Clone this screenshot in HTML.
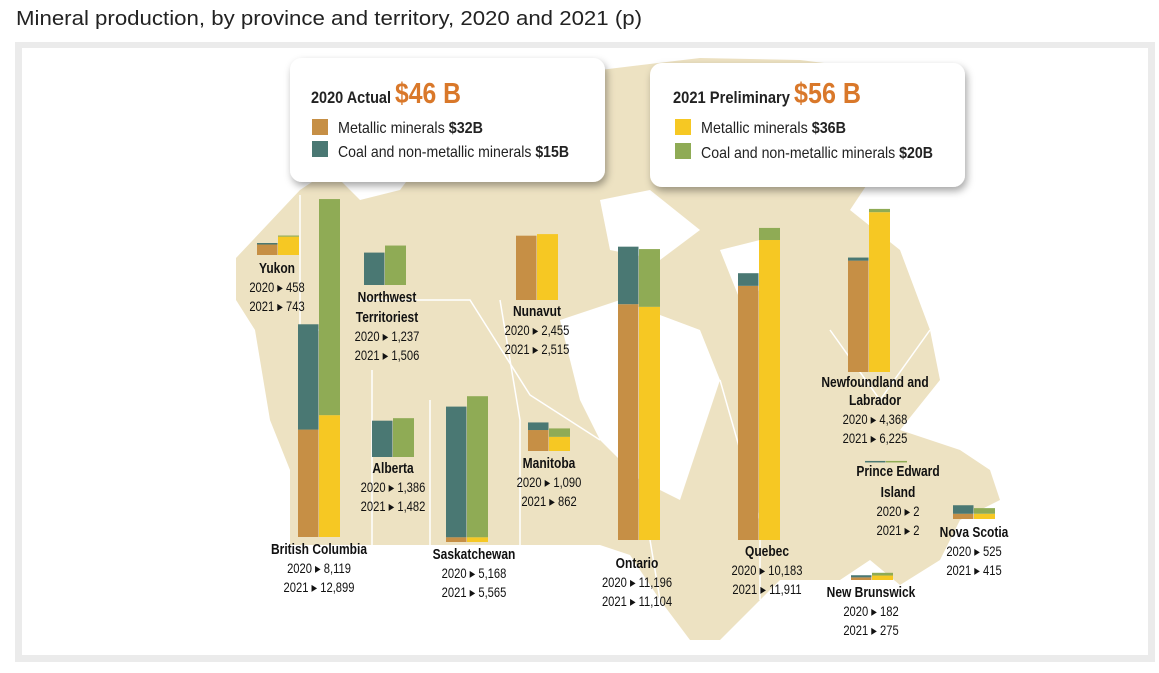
<!DOCTYPE html>
<html><head><meta charset="utf-8"><style>
body{margin:0;background:#fff;font-family:"Liberation Sans",sans-serif;}
svg text{font-family:"Liberation Sans",sans-serif;}
</style></head><body>
<svg id="c" width="1159" height="668" viewBox="0 0 1159 668" xmlns="http://www.w3.org/2000/svg">
<defs><filter id="sh" x="-10%" y="-10%" width="130%" height="140%"><feDropShadow dx="2" dy="4" stdDeviation="4" flood-color="#000" flood-opacity="0.35"/></filter></defs>
<text x="16" y="25" font-size="20" fill="#222" textLength="626" lengthAdjust="spacingAndGlyphs">Mineral production, by province and territory, 2020 and 2021 (p)</text>
<rect x="15" y="42" width="1140" height="620" fill="#ebebeb"/>
<rect x="22" y="48" width="1126" height="607" fill="#fff"/>
<g fill="#ede2c2">
<path d="M236,258 L300,190 L330,170 L360,200 L400,190 L430,150 L470,110 L520,90 L600,70 L700,58 L800,60 L880,70 L900,110 L870,180 L850,210 L900,250 L930,330 L940,380 L900,430 L960,450 L990,470 L1000,500 L960,520 L940,560 L900,585 L870,560 L840,580 L780,580 L760,600 L720,640 L690,640 L660,600 L630,555 L600,545 L290,545 L290,470 L270,420 L255,330 L236,300 Z"/>
<path d="M560,320 L620,300 L700,330 L720,380 L700,440 L680,500 L640,480 L600,440 L580,400 Z" fill="#fff"/>
<path d="M600,200 L650,190 L700,230 L660,260 L610,250 Z" fill="#fff"/>
<path d="M720,250 L760,240 L780,280 L740,300 Z" fill="#fff"/>
<g stroke="#fff" stroke-width="1.5" fill="none">
<path d="M300,195 L300,330 L330,330"/><path d="M360,300 L470,300 L530,395 L600,440"/><path d="M372,370 L372,545"/><path d="M430,400 L430,545"/><path d="M500,300 L520,420 L520,545"/><path d="M640,480 L660,600"/><path d="M720,380 L760,520 L760,600"/><path d="M830,330 L880,400 L930,330"/></g>
</g>
<g id="bars"></g>
<g id="labels"></g>
<g>
<rect x="290" y="58" width="315" height="124" rx="12" fill="#fff" filter="url(#sh)"/>
<text x="311" y="103" font-size="17" font-weight="bold" fill="#222" textLength="150" lengthAdjust="spacingAndGlyphs">2020 Actual <tspan font-size="29" fill="#d9782a">$46 B</tspan></text>
<rect x="312" y="119" width="16" height="16" fill="#c68f45"/>
<text x="338" y="133" font-size="16" fill="#222" textLength="145" lengthAdjust="spacingAndGlyphs">Metallic minerals <tspan font-weight="bold">$32B</tspan></text>
<rect x="312" y="141" width="16" height="16" fill="#4a7873"/>
<text x="338" y="157" font-size="16" fill="#222" textLength="231" lengthAdjust="spacingAndGlyphs">Coal and non-metallic minerals <tspan font-weight="bold">$15B</tspan></text>
</g>
<g>
<rect x="650" y="63" width="315" height="124" rx="12" fill="#fff" filter="url(#sh)"/>
<text x="673" y="103" font-size="17" font-weight="bold" fill="#222" textLength="188" lengthAdjust="spacingAndGlyphs">2021 Preliminary <tspan font-size="29" fill="#d9782a">$56 B</tspan></text>
<rect x="675" y="119" width="16" height="16" fill="#f6c823"/>
<text x="701" y="133" font-size="16" fill="#222" textLength="145" lengthAdjust="spacingAndGlyphs">Metallic minerals <tspan font-weight="bold">$36B</tspan></text>
<rect x="675" y="143" width="16" height="16" fill="#8fab55"/>
<text x="701" y="158" font-size="16" fill="#222" textLength="232" lengthAdjust="spacingAndGlyphs">Coal and non-metallic minerals <tspan font-weight="bold">$20B</tspan></text>
</g>
</svg>
<script>
const provinces=["Yukon","Northwest Territoriest","Nunavut","British Columbia","Alberta","Saskatchewan","Manitoba","Ontario","Quebec","Newfoundland and Labrador","Prince Edward Island","Nova Scotia","New Brunswick"];
const total2020=[458,1237,2455,8119,1386,5168,1090,11196,10183,4368,2,525,182];
const total2021=[743,1506,2515,12899,1482,5565,862,11104,11911,6225,2,415,275];
const metallic2020=[400,0,2455,4100,0,180,800,9000,9700,4250,0,200,100];
const metallic2021=[700,0,2515,4650,0,180,540,8900,11450,6100,0,200,170];
const pxPerUnit=0.0262;
const layout=[[257,255,277,[268]],[364,285,387,[297,317]],[516,300,537,[311]],[298,537,319,[549]],[372,457,393,[468]],[446,542,474,[554]],[528,451,549,[463]],[618,540,637,[563]],[738,540,767,[551]],[848,372,875,[382,400]],[865,461,898,[471,492]],[953,519,974,[532]],[851,580,871,[592]]];
const names=[["Yukon"],["Northwest","Territoriest"],["Nunavut"],["British Columbia"],["Alberta"],["Saskatchewan"],["Manitoba"],["Ontario"],["Quebec"],["Newfoundland and","Labrador"],["Prince Edward","Island"],["Nova Scotia"],["New Brunswick"]];
const NS="http://www.w3.org/2000/svg";
const bars=document.getElementById('bars'),labels=document.getElementById('labels');
const y=v=>v*pxPerUnit;
function rect(x,yy,w,h,fill,name){const r=document.createElementNS(NS,'rect');r.setAttribute('x',x);r.setAttribute('y',yy);r.setAttribute('width',w);r.setAttribute('height',Math.max(h,0));r.setAttribute('fill',fill);


bars.appendChild(r);}
function txt(x,yy,s,bold,name){const t=document.createElementNS(NS,'text');t.setAttribute('x',0);t.setAttribute('y',0);t.setAttribute('transform','translate('+x+','+yy+') scale(0.8,1)');t.setAttribute('text-anchor','middle');t.setAttribute('font-size',bold?15:14);if(bold)t.setAttribute('font-weight','bold');t.setAttribute('fill','#111');t.textContent=s;


labels.appendChild(t);}
provinces.forEach((p,i)=>{const [x,base,cx,ny]=layout[i];const slug=p.toLowerCase().replace(/ /g,'-');
const m0=y(metallic2020[i]),n0=y(total2020[i]-metallic2020[i]);
const m1=y(metallic2021[i]),n1=y(total2021[i]-metallic2021[i]);
rect(x,base-m0,20.5,m0,'#c68f45','bar-2020-metallic-'+slug);
rect(x,base-m0-n0,20.5,Math.max(n0,total2020[i]<10?1.5:0),'#4a7873','bar-2020-nonmetallic-'+slug);
rect(x+21,base-m1,21,m1,'#f6c823','bar-2021-metallic-'+slug);
rect(x+21,base-m1-n1,21,Math.max(n1,total2021[i]<10?1.5:0),'#8fab55','bar-2021-nonmetallic-'+slug);
names[i].forEach((n,k)=>txt(cx,ny[k]+5,n,true,'label-'+slug));
const last=ny[ny.length-1];
txt(cx,last+24,'2020 \u25B8 '+total2020[i].toLocaleString('en-US'),false,'value-2020-'+slug);
txt(cx,last+43,'2021 \u25B8 '+total2021[i].toLocaleString('en-US'),false,'value-2021-'+slug);
});
</script>
</body></html>
